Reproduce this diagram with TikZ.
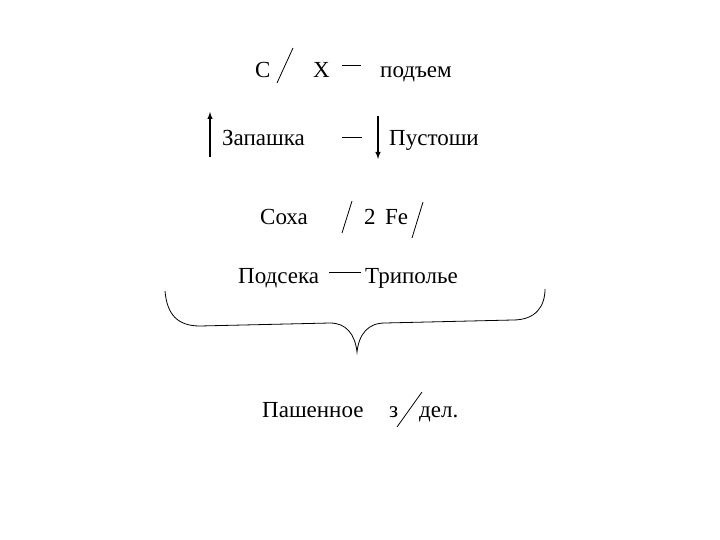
\documentclass[tikz,border=0pt]{standalone}
\usepackage{fontspec}
\setmainfont{Liberation Serif}
\usetikzlibrary{arrows}
\pgfdeclarelayer{edgelayer}
\pgfdeclarelayer{nodelayer}
\pgfsetlayers{edgelayer,nodelayer,main}
\tikzstyle{none}=[inner sep=0pt]
\tikzstyle{word}=[inner sep=0pt,anchor=base west,font=\fontsize{23}{28}\selectfont]
\tikzstyle{stroke}=[-,draw=black,line width=0.8pt]
\tikzstyle{updown}=[-latex,draw=black,line width=1.4pt]

\begin{document}
\begin{tikzpicture}[x=1pt,y=-1pt]
	\useasboundingbox (0,0) rectangle (720,540);
	\begin{pgfonlayer}{nodelayer}
		\node [style=word] (0) at (255, 78) {С};
		\node [style=word] (1) at (313, 78) {Х};
		\node [style=word] (2) at (380, 78) {подъем};
		\node [style=word] (3) at (222, 146) {Запашка};
		\node [style=word] (4) at (389, 146) {Пустоши};
		\node [style=word] (5) at (260, 225) {Соха};
		\node [style=word] (6) at (364, 225) {2};
		\node [style=word] (7) at (385, 225) {Fe};
		\node [style=word] (8) at (238, 283) {Подсека};
		\node [style=word] (9) at (365, 283) {Триполье};
		\node [style=word] (10) at (262, 417) {Пашенное};
		\node [style=word] (11) at (389, 417) {з};
		\node [style=word] (12) at (419, 417) {дел.};
		\coordinate (13) at (277, 83);
		\coordinate (14) at (293, 48);
		\coordinate (15) at (342, 65);
		\coordinate (16) at (361, 65);
		\coordinate (17) at (210, 157);
		\coordinate (18) at (210, 112);
		\coordinate (19) at (342, 137);
		\coordinate (20) at (362, 137);
		\coordinate (21) at (378, 116);
		\coordinate (22) at (378, 159);
		\coordinate (23) at (342, 233);
		\coordinate (24) at (352, 201);
		\coordinate (25) at (412, 238);
		\coordinate (26) at (423, 202);
		\coordinate (27) at (329, 272);
		\coordinate (28) at (361, 272);
		\coordinate (29) at (397, 427);
		\coordinate (30) at (422, 392);
		\coordinate (31) at (165, 291);
		\coordinate (32) at (357, 352);
		\coordinate (33) at (545, 289);
	\end{pgfonlayer}
	\begin{pgfonlayer}{edgelayer}
		\draw [style=stroke] (13) to (14);
		\draw [style=stroke] (15) to (16);
		\draw [style=updown] (17) to (18);
		\draw [style=stroke] (19) to (20);
		\draw [style=updown] (21) to (22);
		\draw [style=stroke] (23) to (24);
		\draw [style=stroke] (25) to (26);
		\draw [style=stroke] (27) to (28);
		\draw [style=stroke] (29) to (30);
		\draw [style=stroke] (31) .. controls (167, 315) and (178, 326) .. (200, 326)
			-- (330, 323) .. controls (346, 323) and (355, 334) .. (32)
			.. controls (359, 334) and (368, 323) .. (385, 323)
			-- (513, 320) .. controls (536, 320) and (545, 306) .. (33);
	\end{pgfonlayer}
\end{tikzpicture}
\end{document}
